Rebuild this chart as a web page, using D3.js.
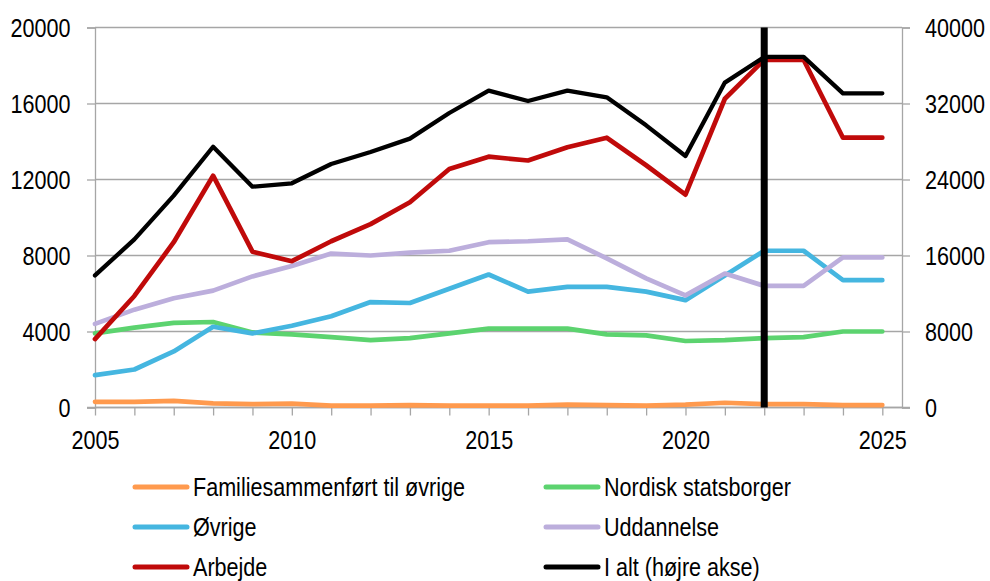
<!DOCTYPE html>
<html>
<head>
<meta charset="utf-8">
<script src="https://cdn.jsdelivr.net/npm/d3@7"></script>
<style>
  html, body { margin: 0; padding: 0; background: #fff; }
  svg text { font-family: "Liberation Sans", Arial, sans-serif; fill: #000; }
</style>
</head>
<body>
<svg id="chart" width="990" height="581"></svg>
<script>
// data
const years = d3.range(2005, 2026);
const familie = [300, 300, 350, 220, 180, 200, 100, 100, 130, 100, 100, 100, 150, 130, 100, 150, 250, 180, 180, 130, 130];
const nordisk = [3900, 4200, 4450, 4500, 3950, 3850, 3700, 3550, 3650, 3900, 4150, 4150, 4150, 3850, 3800, 3500, 3550, 3650, 3700, 4000, 4000];
const oevrige = [1700, 2000, 2950, 4250, 3900, 4300, 4800, 5550, 5500, 6250, 7000, 6100, 6350, 6350, 6100, 5650, 6950, 8250, 8250, 6700, 6700];
const uddannelse = [4400, 5150, 5750, 6150, 6900, 7450, 8100, 8000, 8150, 8250, 8700, 8750, 8850, 7850, 6800, 5900, 7050, 6400, 6400, 7900, 7900];
const arbejde = [3600, 5870, 8700, 12200, 8200, 7700, 8750, 9650, 10800, 12550, 13200, 13000, 13700, 14200, 12750, 11200, 16250, 18300, 18300, 14200, 14200];
const iAlt = [13900, 17700, 22300, 27450, 23240, 23600, 25630, 26900, 28300, 31000, 33350, 32260, 33350, 32650, 29700, 26470, 34200, 36900, 36900, 33070, 33070];

const leftTicks = [0, 4000, 8000, 12000, 16000, 20000];
const rightTicks = [0, 8000, 16000, 24000, 32000, 40000];
const markerYear = 2022;

const series = [
  { name: "Familiesammenført til øvrige", values: familie, color: "#FF9A4E", axis: "left" },
  { name: "Nordisk statsborger", values: nordisk, color: "#5CD36F", axis: "left" },
  { name: "Øvrige", values: oevrige, color: "#45B6E0", axis: "left" },
  { name: "Uddannelse", values: uddannelse, color: "#BCAEDC", axis: "left" },
  { name: "Arbejde", values: arbejde, color: "#C00A0A", axis: "left" },
  { name: "I alt (højre akse)", values: iAlt, color: "#000000", axis: "right" }
];

const plotLeft = 95, plotRight = 902, plotTop = 27.5, plotBottom = 407.5;
const gridColor = "#A6A6A6";
const fontSize = "26px";
const sx = 0.83; // text in the reference is narrow and tall

const svg = d3.select("#chart");

const x = d3.scaleLinear().domain([2005, 2025.5]).range([plotLeft, plotRight]);
const yL = d3.scaleLinear().domain([0, 20000]).range([plotBottom, plotTop]);
const yR = d3.scaleLinear().domain([0, 40000]).range([plotBottom, plotTop]);

// horizontal grid
svg.append("g")
  .selectAll("line")
  .data(leftTicks)
  .enter()
  .append("line")
  .attr("x1", plotLeft)
  .attr("x2", plotRight)
  .attr("y1", d => yL(d))
  .attr("y2", d => yL(d))
  .attr("stroke", gridColor)
  .attr("stroke-width", 1.3);

// left axis
const gLeft = svg.append("g")
  .attr("transform", `translate(${plotLeft},0)`)
  .call(d3.axisLeft(yL).tickValues(leftTicks).tickSize(8).tickPadding(0).tickFormat(d3.format("d")));
gLeft.select(".domain").attr("stroke", gridColor).attr("stroke-width", 1.3);
gLeft.selectAll(".tick line").attr("stroke", gridColor).attr("stroke-width", 1.3);
gLeft.selectAll(".tick text")
  .attr("x", -24.5 / sx)
  .attr("dy", "0.35em")
  .attr("transform", `scale(${sx},1)`)
  .style("font-size", fontSize);

// right axis
const gRight = svg.append("g")
  .attr("transform", `translate(${plotRight},0)`)
  .call(d3.axisRight(yR).tickValues(rightTicks).tickSize(8).tickPadding(0).tickFormat(d3.format("d")));
gRight.select(".domain").attr("stroke", gridColor).attr("stroke-width", 1.3);
gRight.selectAll(".tick line").attr("stroke", gridColor).attr("stroke-width", 1.3);
gRight.selectAll(".tick text")
  .attr("x", 23 / sx)
  .attr("dy", "0.35em")
  .attr("transform", `scale(${sx},1)`)
  .style("font-size", fontSize);

// bottom axis
const gBottom = svg.append("g")
  .attr("transform", `translate(0,${plotBottom})`)
  .call(d3.axisBottom(x).tickValues(years).tickSize(8).tickPadding(0)
    .tickFormat(d => d % 5 === 0 ? d : ""));
gBottom.select(".domain").attr("stroke", gridColor).attr("stroke-width", 1.3)
  .attr("d", `M${plotLeft - 8},0H${plotRight + 8}`);
gBottom.selectAll(".tick line").attr("stroke", gridColor).attr("stroke-width", 1.3);
gBottom.selectAll(".tick text")
  .attr("y", 42)
  .attr("dy", 0)
  .attr("transform", `scale(${sx},1)`)
  .style("font-size", fontSize);

// lines
const line = (scale) => d3.line()
  .x((d, i) => x(years[i]))
  .y(d => scale(d));

svg.append("g")
  .selectAll("path")
  .data(series)
  .enter()
  .append("path")
  .attr("d", s => line(s.axis === "left" ? yL : yR)(s.values))
  .attr("fill", "none")
  .attr("stroke", s => s.color)
  .attr("stroke-width", s => s.axis === "left" ? 4.7 : 4.3)
  .attr("stroke-linejoin", "round")
  .attr("stroke-linecap", "round");

// marker bar
svg.append("line")
  .attr("x1", x(markerYear))
  .attr("x2", x(markerYear))
  .attr("y1", plotTop)
  .attr("y2", plotBottom)
  .attr("stroke", "#000")
  .attr("stroke-width", 7);

// legend
const legendCols = [133, 544];
const legendRows = [487, 527, 567];
const legend = svg.append("g")
  .selectAll("g")
  .data(series)
  .enter()
  .append("g")
  .attr("transform", (d, i) => `translate(${legendCols[i % 2]},${legendRows[Math.floor(i / 2)]})`);

legend.append("line")
  .attr("x1", 2)
  .attr("x2", 54)
  .attr("stroke", d => d.color)
  .attr("stroke-width", 5)
  .attr("stroke-linecap", "round");

legend.append("text")
  .attr("x", 60 / sx)
  .attr("dy", "0.35em")
  .attr("transform", `scale(${sx},1)`)
  .style("font-size", fontSize)
  .text(d => d.name);
</script>
</body>
</html>
